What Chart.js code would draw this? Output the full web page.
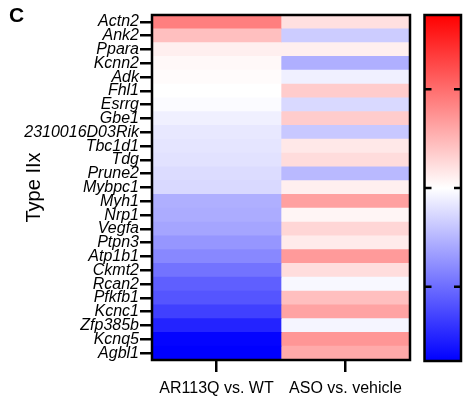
<!DOCTYPE html>
<html>
<head>
<meta charset="utf-8">
<script src="https://cdn.jsdelivr.net/npm/chart.js@4.4.1/dist/chart.umd.min.js"></script>
<style>
  body { margin: 0; background: #fff; }
  #wrap { position: relative; width: 465px; height: 402px; }
  #heat { position: absolute; left: 0; top: 0; }
  #bar { position: absolute; left: 415px; top: 0; }
</style>
</head>
<body>
<div id="wrap">
  <canvas id="heat" width="465" height="402"></canvas>
  <canvas id="bar" width="50" height="402"></canvas>
</div>
<script>
// gene names, top to bottom
const genes = ['Actn2', 'Ank2', 'Ppara', 'Kcnn2', 'Adk', 'Fhl1', 'Esrrg', 'Gbe1',
  '2310016D03Rik', 'Tbc1d1', 'Tdg', 'Prune2', 'Mybpc1', 'Myh1', 'Nrp1', 'Vegfa',
  'Ptpn3', 'Atp1b1', 'Ckmt2', 'Rcan2', 'Pfkfb1', 'Kcnc1', 'Zfp385b', 'Kcnq5', 'Agbl1'];

const columns = ['AR113Q vs. WT', 'ASO vs. vehicle'];

// values (log2 fold change)
const ar113qVsWt = [0.88, 0.44, 0.11, 0.05, 0.03, 0.00, -0.03, -0.10,
  -0.16, -0.18, -0.20, -0.24, -0.26, -0.55, -0.57, -0.62,
  -0.72, -0.82, -0.96, -1.10, -1.17, -1.31, -1.51, -1.72, -1.75];
const asoVsVehicle = [0.21, -0.35, 0.11, -0.55, -0.10, 0.35, -0.26, 0.35,
  -0.38, 0.16, 0.24, -0.48, 0.11, 0.65, 0.07, 0.28,
  0.14, 0.69, 0.23, -0.05, 0.44, 0.63, -0.07, 0.72, 0.58];

// colour scale
const scaleMin = -1.75;
const scaleMax = 1.75;
const scaleTicks = [-1, 0, 1];

function heatColor(v) {
  let t = v / scaleMax;
  t = Math.max(-1, Math.min(1, t));
  if (t >= 0) {
    const c = Math.round(255 * (1 - t));
    return `rgb(255,${c},${c})`;
  }
  const c = Math.round(255 * (1 + t));
  return `rgb(${c},${c},255)`;
}

// frame round the plot area + panel letter
const framePlugin = {
  id: 'frame',
  afterDraw(chart, args, opts) {
    const { ctx, chartArea: a } = chart;
    ctx.save();
    ctx.strokeStyle = '#000';
    ctx.lineWidth = 2.5;
    ctx.strokeRect(a.left, a.top, a.right - a.left, a.bottom - a.top);
    if (opts.letter) {
      ctx.fillStyle = '#000';
      ctx.font = 'bold 21px "Liberation Sans", Arial, sans-serif';
      ctx.textBaseline = 'alphabetic';
      ctx.fillText(opts.letter, 9, 22);
    }
    ctx.restore();
  }
};

const font = '"Liberation Sans", Arial, sans-serif';

const heatData = {
  labels: genes,
  datasets: [
    {
      label: columns[0],
      data: genes.map(() => [0, 1]),
      backgroundColor: ar113qVsWt.map(heatColor),
    },
    {
      label: columns[1],
      data: genes.map(() => [1, 2]),
      backgroundColor: asoVsVehicle.map(heatColor),
    }
  ]
};

new Chart(document.getElementById('heat'), {
  type: 'bar',
  data: heatData,
  plugins: [framePlugin],
  options: {
    responsive: false,
    animation: false,
    indexAxis: 'y',
    layout: { padding: { left: 22, top: 15, right: 55, bottom: 0 } },
    datasets: { bar: { barPercentage: 1, categoryPercentage: 1, borderWidth: 0, grouped: false } },
    plugins: {
      legend: { display: false },
      tooltip: { enabled: false },
      frame: { letter: 'C' }
    },
    scales: {
      x: {
        type: 'linear',
        min: 0,
        max: 2,
        afterBuildTicks: s => { s.ticks = [{ value: 0.5 }, { value: 1.5 }]; },
        afterFit: s => { s.height = 42; },
        ticks: {
          callback: v => columns[v === 0.5 ? 0 : 1],
          color: '#000',
          font: { family: font, size: 16 },
          padding: 7,
          maxRotation: 0
        },
        grid: { drawOnChartArea: false, tickLength: 12, lineWidth: 2.5, color: '#000' },
        border: { display: false }
      },
      y: {
        type: 'category',
        afterFit: s => { s.width = 130; },
        ticks: {
          autoSkip: false,
          color: '#000',
          font: { family: font, size: 16, style: 'italic' },
          padding: 1
        },
        grid: { drawOnChartArea: false, tickLength: 12, lineWidth: 2.5, color: '#000', offset: false },
        border: { display: false },
        title: {
          display: true,
          text: 'Type IIx',
          color: '#000',
          font: { family: font, size: 20 },
          padding: 0
        }
      }
    }
  }
});

// colour bar
const inwardTicks = {
  id: 'inwardTicks',
  afterDraw(chart) {
    const { ctx, chartArea: a } = chart;
    const y = chart.scales.y;
    ctx.save();
    ctx.strokeStyle = '#000';
    ctx.lineWidth = 2.5;
    scaleTicks.forEach(t => {
      const py = y.getPixelForValue(t);
      ctx.beginPath();
      ctx.moveTo(a.left, py); ctx.lineTo(a.left + 7, py);
      ctx.moveTo(a.right - 7, py); ctx.lineTo(a.right, py);
      ctx.stroke();
    });
    ctx.restore();
  }
};

new Chart(document.getElementById('bar'), {
  type: 'bar',
  data: {
    labels: [''],
    datasets: [{
      data: [[scaleMin, scaleMax]],
      borderWidth: 0,
      barPercentage: 1,
      categoryPercentage: 1,
      backgroundColor: ctx => {
        const a = ctx.chart.chartArea;
        if (!a) return '#fff';
        const g = ctx.chart.ctx.createLinearGradient(0, a.bottom, 0, a.top);
        g.addColorStop(0, heatColor(scaleMin));
        g.addColorStop(0.5, heatColor(0));
        g.addColorStop(1, heatColor(scaleMax));
        return g;
      }
    }]
  },
  plugins: [framePlugin, inwardTicks],
  options: {
    responsive: false,
    animation: false,
    layout: { padding: { left: 9.5, right: 4, top: 15, bottom: 41 } },
    plugins: { legend: { display: false }, tooltip: { enabled: false }, frame: {} },
    scales: {
      x: { display: false },
      y: { display: false, min: scaleMin, max: scaleMax }
    }
  }
});
</script>
</body>
</html>
